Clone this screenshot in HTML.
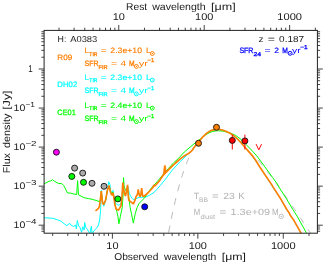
<!DOCTYPE html>
<html><head><meta charset="utf-8"><title>SED</title>
<style>html,body{margin:0;padding:0;background:#fff;}svg{display:block;will-change:transform;filter:grayscale(0)}text{font-family:"Liberation Sans",sans-serif;text-rendering:geometricPrecision;}</style>
</head><body>
<svg width="324" height="263" viewBox="0 0 324 263">
<rect width="324" height="263" fill="#fff"/>
<defs><clipPath id="c"><rect x="44.1" y="30.4" width="273.29999999999995" height="202.85"/></clipPath></defs>
<g clip-path="url(#c)" fill="none" stroke-linejoin="bevel" stroke-linecap="butt">
<path d="M168.30,234.31 L168.71,232.07 L169.12,229.87 L169.54,227.71 L169.95,225.57 L170.36,223.47 L170.77,221.40 L171.18,219.37 L171.59,217.36 L172.00,215.39 L172.42,213.45 L172.83,211.54 L173.24,209.66 L173.65,207.81 L174.06,205.99 L174.48,204.19 L174.89,202.43 L175.30,200.70 L175.71,198.99 L176.12,197.32 L176.53,195.67 L176.95,194.05 L177.36,192.45 L177.77,190.88 L178.18,189.34 L178.59,187.83 L179.00,186.34 L179.41,184.88 L179.83,183.44 L180.24,182.03 L180.65,180.64 L181.06,179.28 L181.47,177.94 L181.89,176.63 L182.30,175.34 L182.71,174.07 L183.12,172.83 L183.53,171.61 L183.94,170.41 L184.36,169.24 L184.77,168.08 L185.18,166.95 L185.59,165.84 L186.00,164.76 L186.41,163.69 L186.82,162.65 L187.24,161.62 L187.65,160.62 L188.06,159.64 L188.47,158.68 L188.88,157.73 L189.30,156.81 L189.71,155.91 L190.12,155.02 L190.53,154.16 L190.94,153.31 L191.35,152.48 L191.76,151.67 L192.18,150.88 L192.59,150.11 L193.00,149.36" stroke="#b4b4b4" stroke-width="1" stroke-dasharray="7,7.15" stroke-dashoffset="-1.7"/>
<path d="M258.20,160.21 L259.16,161.36 L260.13,162.52 L261.09,163.69 L262.05,164.88 L263.02,166.07 L263.98,167.28 L264.94,168.49 L265.91,169.72 L266.87,170.95 L267.83,172.19 L268.80,173.44 L269.76,174.70 L270.72,175.97 L271.69,177.25 L272.65,178.53 L273.61,179.83 L274.58,181.12 L275.54,182.43 L276.50,183.74 L277.47,185.06 L278.43,186.39 L279.39,187.72 L280.36,189.06 L281.32,190.40 L282.28,191.75 L283.25,193.10 L284.21,194.46 L285.17,195.83 L286.14,197.20 L287.10,198.57 L288.06,199.95 L289.03,201.34 L289.99,202.73 L290.95,204.12 L291.92,205.51 L292.88,206.92 L293.84,208.32 L294.81,209.73 L295.77,211.14 L296.73,212.56 L297.70,213.98 L298.66,215.40 L299.62,216.82 L300.59,218.25 L301.55,219.68 L302.51,221.12 L303.48,222.56 L304.44,224.00 L305.40,225.44 L306.37,226.89 L307.33,228.34 L308.29,229.79 L309.26,231.24 L310.22,232.70 L311.18,234.16 L312.15,235.62 L313.11,237.08 L314.07,238.54 L315.04,240.01 L316.00,241.48" stroke="#b4b4b4" stroke-width="1" stroke-dasharray="6.5,7.7"/>
<path d="M43.6,217.7 L52.6,218.3 L57.6,219.8 L61.3,221.4 L64.4,223.9 L66.8,225.5 L68.1,224.8 L69.7,223.2 L70.9,225.1 L73.6,226.4 L75.5,225.1 L76.4,228.8 L77.3,220.6 L78.6,225.8 L80.0,227.6 L81.6,232.3 L82.8,226.8 L83.7,228.7 L84.2,230.0 L84.7,222.5 L85.8,227.5 L87.4,229.3 L88.7,231.8 L89.9,233.6 L91.4,226.2 L92.1,233.6 L94.2,230.5 L96.7,228.1 L98.5,225.0 L99.8,218.8 L100.6,210.2 L101.3,190.5 L102.3,200.0 L103.7,206.2 L105.6,201.0 L107.4,190.0 L108.7,181.7 L109.9,184.2 L111.2,194.0 L111.8,195.0 L113.0,190.3 L114.2,198.0 L115.5,203.0 L117.3,204.8 L119.0,205.2 L121.0,203.6 L122.0,197.0 L123.0,184.0 L124.3,193.0 L125.3,195.0 L127.8,186.5 L129.3,193.4 L130.6,196.2 L132.3,198.6 L134.0,199.6 L136.0,198.8 L139.0,197.3 L142.0,197.3 L145.9,197.0 L149.6,195.2 L154.0,192.4 L157.0,189.2 L160.0,185.8 L164.7,180.2 L172.1,170.3 L180.0,161.7 L188.0,154.1 L190.5,152.0 L194.2,147.3 L198.5,143.0 L202.9,136.8 L209.0,131.9 L212.3,130.1 L218.5,129.5 L224.7,130.7 L230.9,133.8 L237.0,138.4 L244.3,146.5 L250.5,153.3 L260.3,167.7 L266.5,177.0 L273.3,188.0 L280.3,198.2 L286.5,209.3 L293.3,219.4 L301.3,233.6" stroke="#00ffff" stroke-width="1.0"/>
<path d="M43.6,184.2 L48.9,181.3 L50.8,180.9 L52.6,179.7 L54.5,181.3 L58.2,183.4 L61.9,183.7 L63.8,185.6 L67.5,193.0 L70.5,193.0 L73.0,193.9 L76.7,194.5 L77.6,180.6 L78.5,194.8 L84.0,197.7 L88.4,198.6 L92.0,199.2 L99.4,201.5 L100.3,200.0 L101.3,191.5 L102.5,202.7 L103.7,204.5 L105.6,200.2 L107.4,190.3 L109.0,186.0 L110.6,191.6 L112.0,192.6 L113.2,192.4 L114.2,199.0 L115.0,204.0 L116.0,208.5 L116.8,211.6 L117.9,216.3 L118.9,223.8 L120.4,216.3 L122.2,207.7 L123.0,196.0 L123.5,177.6 L124.2,187.0 L125.6,190.3 L127.6,189.5 L129.0,199.0 L130.2,207.7 L131.5,213.9 L133.3,223.1 L135.2,213.9 L137.0,207.7 L139.1,203.3 L144.7,197.8 L146.5,194.7 L150.9,188.6 L157.3,181.5 L162.2,175.6 L168.4,168.5 L173.9,162.5 L178.3,158.6 L184.3,152.0 L190.5,146.8 L196.7,141.7 L203.0,136.8 L206.0,134.6 L209.0,132.9 L212.3,131.5 L216.0,130.9 L218.5,130.8 L222.0,131.0 L224.7,131.5 L228.0,132.3 L230.9,133.3 L235.7,135.4 L240.0,138.6 L244.3,142.8 L250.5,149.0 L256.8,155.9 L259.8,160.0 L262.8,164.0 L272.7,177.6 L277.3,184.0 L279.5,188.0 L286.5,198.8 L292.7,209.3 L297.0,216.0 L306.8,233.6" stroke="#00ff00" stroke-width="1.0"/>
<path d="M95.5,210.8 L98.5,208.3 L99.4,206.4 L100.3,200.0 L101.3,191.0 L102.5,202.7 L103.7,204.5 L105.6,200.2 L107.4,190.3 L109.0,185.4 L110.5,192.2 L111.8,195.3 L113.0,192.8 L114.2,199.0 L114.8,204.5 L116.1,208.9 L118.5,210.2 L121.0,205.8 L122.0,196.5 L122.8,182.6 L124.3,193.4 L125.5,196.0 L127.6,184.8 L128.3,196.5 L128.9,200.4 L131.2,202.2 L133.4,203.9 L134.7,200.9 L136.1,196.5 L137.0,195.3 L137.6,193.5 L138.2,189.4 L138.9,193.6 L139.5,195.6 L140.1,196.6 L140.8,195.0 L141.7,188.0 L142.4,194.6 L142.8,196.0 L143.6,196.6 L147.9,193.0 L150.9,189.8 L153.0,187.4 L153.8,185.0 L154.6,186.2 L156.0,184.7 L160.0,180.2 L162.2,176.5 L163.8,174.6" stroke="#ff7f00" stroke-width="1.65"/>
<path d="M163.2,175.2 L164.4,165.6 L165.3,165.6 L166.4,172.4 Z" fill="#ff7f00" stroke="#ff7f00" stroke-width="0.8"/>
<path d="M163.8,174.6 L166.5,171.8 L170.9,167.3 L175.5,163.0 L180.0,159.2 L184.3,155.9 L188.0,153.8 L190.5,152.0 L192.4,150.0 L194.2,147.3 L196.2,144.8 L198.5,143.0 L200.5,139.8 L202.9,136.8 L206.2,133.6 L209.0,131.6 L212.3,130.1 L215.5,129.5 L218.5,129.4 L221.5,129.8 L224.7,130.7 L228.0,132.2 L230.9,133.8 L234.0,136.0 L238.2,139.7 L241.0,142.6 L244.3,146.5 L250.5,153.6 L252.9,156.4 L255.5,160.0 L260.3,167.7 L266.5,177.0 L271.5,184.4 L273.3,187.4 L280.3,198.2 L286.5,209.0 L288.9,212.4 L290.4,215.6 L293.3,219.4 L301.3,233.6" stroke="#ff7f00" stroke-width="1.65"/>
</g>
<rect x="44.1" y="30.4" width="273.3" height="202.8" fill="none" stroke="#222" stroke-width="1"/>
<path d="M52.68,233.25v2.7M67.73,233.25v2.7M78.40,233.25v2.7M86.68,233.25v2.7M93.45,233.25v2.7M99.17,233.25v2.7M104.12,233.25v2.7M108.49,233.25v2.7M112.40,233.25v5.4M138.12,233.25v2.7M153.17,233.25v2.7M163.84,233.25v2.7M172.12,233.25v2.7M178.89,233.25v2.7M184.61,233.25v2.7M189.56,233.25v2.7M193.93,233.25v2.7M197.84,233.25v5.4M223.56,233.25v2.7M238.61,233.25v2.7M249.28,233.25v2.7M257.56,233.25v2.7M264.33,233.25v2.7M270.05,233.25v2.7M275.00,233.25v2.7M279.37,233.25v2.7M283.28,233.25v5.4M309.00,233.25v2.7M59.04,30.4v-2.7M74.09,30.4v-2.7M84.76,30.4v-2.7M93.04,30.4v-2.7M99.81,30.4v-2.7M105.53,30.4v-2.7M110.48,30.4v-2.7M114.85,30.4v-2.7M118.76,30.4v-5.4M144.48,30.4v-2.7M159.53,30.4v-2.7M170.20,30.4v-2.7M178.48,30.4v-2.7M185.25,30.4v-2.7M190.97,30.4v-2.7M195.92,30.4v-2.7M200.29,30.4v-2.7M204.20,30.4v-5.4M229.92,30.4v-2.7M244.97,30.4v-2.7M255.64,30.4v-2.7M263.92,30.4v-2.7M270.69,30.4v-2.7M276.41,30.4v-2.7M281.36,30.4v-2.7M285.73,30.4v-2.7M289.64,30.4v-5.4M315.36,30.4v-2.7M44.1,231.25h-2.7M317.4,231.25h2.7M44.1,228.98h-2.7M317.4,228.98h2.7M44.1,226.99h-2.7M317.4,226.99h2.7M44.1,225.20h-5.4M317.4,225.20h5.4M44.1,213.44h-2.7M317.4,213.44h2.7M44.1,206.57h-2.7M317.4,206.57h2.7M44.1,201.69h-2.7M317.4,201.69h2.7M44.1,197.91h-2.7M317.4,197.91h2.7M44.1,194.81h-2.7M317.4,194.81h2.7M44.1,192.20h-2.7M317.4,192.20h2.7M44.1,189.93h-2.7M317.4,189.93h2.7M44.1,187.94h-2.7M317.4,187.94h2.7M44.1,186.15h-5.4M317.4,186.15h5.4M44.1,174.39h-2.7M317.4,174.39h2.7M44.1,167.52h-2.7M317.4,167.52h2.7M44.1,162.64h-2.7M317.4,162.64h2.7M44.1,158.86h-2.7M317.4,158.86h2.7M44.1,155.76h-2.7M317.4,155.76h2.7M44.1,153.15h-2.7M317.4,153.15h2.7M44.1,150.88h-2.7M317.4,150.88h2.7M44.1,148.89h-2.7M317.4,148.89h2.7M44.1,147.10h-5.4M317.4,147.10h5.4M44.1,135.34h-2.7M317.4,135.34h2.7M44.1,128.47h-2.7M317.4,128.47h2.7M44.1,123.59h-2.7M317.4,123.59h2.7M44.1,119.81h-2.7M317.4,119.81h2.7M44.1,116.71h-2.7M317.4,116.71h2.7M44.1,114.10h-2.7M317.4,114.10h2.7M44.1,111.83h-2.7M317.4,111.83h2.7M44.1,109.84h-2.7M317.4,109.84h2.7M44.1,108.05h-5.4M317.4,108.05h5.4M44.1,96.29h-2.7M317.4,96.29h2.7M44.1,89.42h-2.7M317.4,89.42h2.7M44.1,84.54h-2.7M317.4,84.54h2.7M44.1,80.76h-2.7M317.4,80.76h2.7M44.1,77.66h-2.7M317.4,77.66h2.7M44.1,75.05h-2.7M317.4,75.05h2.7M44.1,72.78h-2.7M317.4,72.78h2.7M44.1,70.79h-2.7M317.4,70.79h2.7M44.1,69.00h-5.4M317.4,69.00h5.4M44.1,57.24h-2.7M317.4,57.24h2.7M44.1,50.37h-2.7M317.4,50.37h2.7M44.1,45.49h-2.7M317.4,45.49h2.7M44.1,41.71h-2.7M317.4,41.71h2.7M44.1,38.61h-2.7M317.4,38.61h2.7M44.1,36.00h-2.7M317.4,36.00h2.7M44.1,33.73h-2.7M317.4,33.73h2.7M44.1,31.74h-2.7M317.4,31.74h2.7" stroke="#222" stroke-width="0.85" fill="none"/>
<text x="106.31" y="248.6" font-size="9.8" fill="#1a1a1a" textLength="12.17" lengthAdjust="spacingAndGlyphs">10</text>
<text x="112.68" y="20.4" font-size="9.8" fill="#1a1a1a" textLength="12.17" lengthAdjust="spacingAndGlyphs">10</text>
<text x="188.70" y="248.6" font-size="9.8" fill="#1a1a1a" textLength="18.27" lengthAdjust="spacingAndGlyphs">100</text>
<text x="195.07" y="20.4" font-size="9.8" fill="#1a1a1a" textLength="18.27" lengthAdjust="spacingAndGlyphs">100</text>
<text x="270.94" y="248.6" font-size="9.8" fill="#1a1a1a" textLength="24.67" lengthAdjust="spacingAndGlyphs">1000</text>
<text x="277.31" y="20.4" font-size="9.8" fill="#1a1a1a" textLength="24.67" lengthAdjust="spacingAndGlyphs">1000</text>
<text x="28.31" y="71.75" font-size="9.8" fill="#1a1a1a" textLength="4.47" lengthAdjust="spacingAndGlyphs">1</text>
<text x="13.53" y="110.8" font-size="9.6" fill="#1a1a1a" textLength="11.74" lengthAdjust="spacingAndGlyphs">10</text>
<text x="25.40" y="106.8" font-size="7.2" fill="#1a1a1a" textLength="9.61" lengthAdjust="spacingAndGlyphs">−1</text>
<text x="13.53" y="149.9" font-size="9.6" fill="#1a1a1a" textLength="11.74" lengthAdjust="spacingAndGlyphs">10</text>
<text x="25.40" y="145.9" font-size="7.2" fill="#1a1a1a" textLength="11.21" lengthAdjust="spacingAndGlyphs">−2</text>
<text x="13.53" y="188.9" font-size="9.6" fill="#1a1a1a" textLength="11.74" lengthAdjust="spacingAndGlyphs">10</text>
<text x="25.40" y="184.9" font-size="7.2" fill="#1a1a1a" textLength="11.21" lengthAdjust="spacingAndGlyphs">−3</text>
<text x="13.53" y="228.0" font-size="9.6" fill="#1a1a1a" textLength="11.74" lengthAdjust="spacingAndGlyphs">10</text>
<text x="25.40" y="224.0" font-size="7.2" fill="#1a1a1a" textLength="11.21" lengthAdjust="spacingAndGlyphs">−4</text>
<text x="114.20" y="259.9" font-size="10" fill="#1a1a1a" textLength="44.30" lengthAdjust="spacingAndGlyphs">Observed</text>
<text x="164.00" y="259.9" font-size="10" fill="#1a1a1a" textLength="52.30" lengthAdjust="spacingAndGlyphs">wavelength</text>
<text x="221.80" y="259.9" font-size="10" fill="#1a1a1a" textLength="24.20" lengthAdjust="spacingAndGlyphs">[μm]</text>
<text x="126.10" y="9.9" font-size="10" fill="#1a1a1a" textLength="21.10" lengthAdjust="spacingAndGlyphs">Rest</text>
<text x="152.20" y="9.9" font-size="10" fill="#1a1a1a" textLength="53.40" lengthAdjust="spacingAndGlyphs">wavelength</text>
<text x="211.10" y="9.9" font-size="10" fill="#1a1a1a" textLength="24.70" lengthAdjust="spacingAndGlyphs">[μm]</text>
<g transform="translate(10.1,0) rotate(-90)">
<text x="-173.20" y="0" font-size="10" fill="#1a1a1a" textLength="20.10" lengthAdjust="spacingAndGlyphs">Flux</text>
<text x="-147.90" y="0" font-size="10" fill="#1a1a1a" textLength="34.20" lengthAdjust="spacingAndGlyphs">density</text>
<text x="-109.70" y="0" font-size="10" fill="#1a1a1a" textLength="19.20" lengthAdjust="spacingAndGlyphs">[Jy]</text>
</g>
<path d="M232.3,134.7V149.5" stroke="#ff0000" stroke-width="1"/>
<path d="M244.9,134.7V149.5" stroke="#ff0000" stroke-width="1"/>
<circle cx="56.4" cy="152.2" r="3.0" fill="#ff00ff" stroke="#111" stroke-width="0.9"/>
<circle cx="74.6" cy="168.1" r="3.0" fill="#aaaaaa" stroke="#111" stroke-width="0.9"/>
<circle cx="82.7" cy="173.1" r="3.0" fill="#aaaaaa" stroke="#111" stroke-width="0.9"/>
<circle cx="92.0" cy="183.3" r="3.0" fill="#aaaaaa" stroke="#111" stroke-width="0.9"/>
<circle cx="104.0" cy="186.3" r="3.0" fill="#aaaaaa" stroke="#111" stroke-width="0.9"/>
<circle cx="71.8" cy="176.4" r="3.0" fill="#00ff00" stroke="#111" stroke-width="0.9"/>
<circle cx="83.5" cy="182.3" r="3.0" fill="#00ff00" stroke="#111" stroke-width="0.9"/>
<circle cx="117.8" cy="198.9" r="3.0" fill="#00ff00" stroke="#111" stroke-width="0.9"/>
<circle cx="144.7" cy="206.8" r="3.0" fill="#0000ff" stroke="#111" stroke-width="0.9"/>
<circle cx="198.5" cy="143.3" r="3.0" fill="#ff7f00" stroke="#111" stroke-width="0.9"/>
<circle cx="216.5" cy="127.3" r="3.0" fill="#ff7f00" stroke="#111" stroke-width="0.9"/>
<circle cx="232.3" cy="140.4" r="3.0" fill="#ff0000" stroke="#111" stroke-width="0.9"/>
<circle cx="244.9" cy="140.9" r="3.0" fill="#ff0000" stroke="#111" stroke-width="0.9"/>
<path d="M256.1,144.1 L258.8,149.9 L261.5,144.1" fill="none" stroke="#ff0000" stroke-width="0.95" stroke-linejoin="miter"/>
<text x="57.60" y="42.0" font-size="8.6" fill="#1a1a1a" textLength="8.80" lengthAdjust="spacingAndGlyphs">H:</text>
<text x="70.20" y="42.0" font-size="8.6" fill="#1a1a1a" textLength="27.10" lengthAdjust="spacingAndGlyphs">A0383</text>
<text x="258.50" y="41.9" font-size="8.6" fill="#1a1a1a" textLength="5.00" lengthAdjust="spacingAndGlyphs">z</text>
<text x="267.70" y="41.9" font-size="8.6" fill="#1a1a1a" textLength="7.20" lengthAdjust="spacingAndGlyphs">=</text>
<text x="279.10" y="41.9" font-size="8.6" fill="#1a1a1a" textLength="25.00" lengthAdjust="spacingAndGlyphs">0.187</text>
<text x="57.35" y="60.4" font-size="7.8" fill="#ff7f00" stroke="#ff7f00" stroke-width="0.19" textLength="14.89" lengthAdjust="spacingAndGlyphs">R09</text>
<text x="84.55" y="52.9" font-size="7.8" fill="#ff7f00" stroke="#ff7f00" stroke-width="0.21" textLength="4.39" lengthAdjust="spacingAndGlyphs">L</text>
<text x="89.31" y="55.6" font-size="5.6" fill="#ff7f00" stroke="#ff7f00" stroke-width="0.30" textLength="8.18" lengthAdjust="spacingAndGlyphs">TIR</text>
<text x="100.75" y="52.9" font-size="7.8" fill="#ff7f00" stroke="#ff7f00" stroke-width="0.03" textLength="5.79" lengthAdjust="spacingAndGlyphs">=</text>
<text x="110.35" y="52.9" font-size="7.8" fill="#ff7f00" stroke="#ff7f00" stroke-width="0.14" textLength="31.69" lengthAdjust="spacingAndGlyphs">2.3e+10</text>
<text x="145.95" y="52.9" font-size="7.8" fill="#ff7f00" stroke="#ff7f00" stroke-width="0.13" textLength="4.89" lengthAdjust="spacingAndGlyphs">L</text>
<circle cx="152.3" cy="53.5" r="1.95" fill="none" stroke="#ff7f00" stroke-width="1.0"/><circle cx="152.3" cy="53.5" r="0.65" fill="#ff7f00"/>
<text x="84.55" y="65.8" font-size="7.8" fill="#ff7f00" stroke="#ff7f00" stroke-width="0.29" textLength="13.99" lengthAdjust="spacingAndGlyphs">SFR</text>
<text x="98.61" y="68.5" font-size="5.6" fill="#ff7f00" stroke="#ff7f00" stroke-width="0.30" textLength="9.08" lengthAdjust="spacingAndGlyphs">FIR</text>
<text x="110.95" y="65.8" font-size="7.8" fill="#ff7f00" textLength="6.09" lengthAdjust="spacingAndGlyphs">=</text>
<text x="120.55" y="65.8" font-size="7.8" fill="#ff7f00" textLength="5.59" lengthAdjust="spacingAndGlyphs">4</text>
<text x="128.95" y="65.8" font-size="7.8" fill="#ff7f00" stroke="#ff7f00" stroke-width="0.30" textLength="5.59" lengthAdjust="spacingAndGlyphs">M</text>
<circle cx="136.4" cy="66.39999999999999" r="1.95" fill="none" stroke="#ff7f00" stroke-width="1.0"/><circle cx="136.4" cy="66.39999999999999" r="0.65" fill="#ff7f00"/>
<text x="138.75" y="65.8" font-size="7.8" fill="#ff7f00" textLength="9.29" lengthAdjust="spacingAndGlyphs">yr</text>
<text x="147.61" y="62.3" font-size="5.6" fill="#ff7f00" stroke="#ff7f00" stroke-width="0.30" textLength="6.68" lengthAdjust="spacingAndGlyphs">−1</text>
<text x="57.35" y="86.8" font-size="7.8" fill="#00ffff" stroke="#00ffff" stroke-width="0.22" textLength="19.89" lengthAdjust="spacingAndGlyphs">DH02</text>
<text x="84.55" y="79.5" font-size="7.8" fill="#00ffff" stroke="#00ffff" stroke-width="0.21" textLength="4.39" lengthAdjust="spacingAndGlyphs">L</text>
<text x="89.31" y="82.2" font-size="5.6" fill="#00ffff" stroke="#00ffff" stroke-width="0.30" textLength="8.18" lengthAdjust="spacingAndGlyphs">TIR</text>
<text x="100.75" y="79.5" font-size="7.8" fill="#00ffff" stroke="#00ffff" stroke-width="0.03" textLength="5.79" lengthAdjust="spacingAndGlyphs">=</text>
<text x="110.35" y="79.5" font-size="7.8" fill="#00ffff" stroke="#00ffff" stroke-width="0.14" textLength="31.69" lengthAdjust="spacingAndGlyphs">2.3e+10</text>
<text x="145.95" y="79.5" font-size="7.8" fill="#00ffff" stroke="#00ffff" stroke-width="0.13" textLength="4.89" lengthAdjust="spacingAndGlyphs">L</text>
<circle cx="152.3" cy="80.1" r="1.95" fill="none" stroke="#00ffff" stroke-width="1.0"/><circle cx="152.3" cy="80.1" r="0.65" fill="#00ffff"/>
<text x="84.55" y="93.3" font-size="7.8" fill="#00ffff" stroke="#00ffff" stroke-width="0.29" textLength="13.99" lengthAdjust="spacingAndGlyphs">SFR</text>
<text x="98.61" y="96.0" font-size="5.6" fill="#00ffff" stroke="#00ffff" stroke-width="0.30" textLength="9.08" lengthAdjust="spacingAndGlyphs">FIR</text>
<text x="110.95" y="93.3" font-size="7.8" fill="#00ffff" textLength="6.09" lengthAdjust="spacingAndGlyphs">=</text>
<text x="120.55" y="93.3" font-size="7.8" fill="#00ffff" textLength="5.59" lengthAdjust="spacingAndGlyphs">4</text>
<text x="128.95" y="93.3" font-size="7.8" fill="#00ffff" stroke="#00ffff" stroke-width="0.30" textLength="5.59" lengthAdjust="spacingAndGlyphs">M</text>
<circle cx="136.4" cy="93.89999999999999" r="1.95" fill="none" stroke="#00ffff" stroke-width="1.0"/><circle cx="136.4" cy="93.89999999999999" r="0.65" fill="#00ffff"/>
<text x="138.75" y="93.3" font-size="7.8" fill="#00ffff" textLength="9.29" lengthAdjust="spacingAndGlyphs">yr</text>
<text x="147.61" y="89.8" font-size="5.6" fill="#00ffff" stroke="#00ffff" stroke-width="0.30" textLength="6.68" lengthAdjust="spacingAndGlyphs">−1</text>
<text x="57.35" y="114.5" font-size="7.8" fill="#00ff00" stroke="#00ff00" stroke-width="0.25" textLength="18.49" lengthAdjust="spacingAndGlyphs">CE01</text>
<text x="84.55" y="107.6" font-size="7.8" fill="#00ff00" stroke="#00ff00" stroke-width="0.21" textLength="4.39" lengthAdjust="spacingAndGlyphs">L</text>
<text x="89.31" y="110.3" font-size="5.6" fill="#00ff00" stroke="#00ff00" stroke-width="0.30" textLength="8.18" lengthAdjust="spacingAndGlyphs">TIR</text>
<text x="100.75" y="107.6" font-size="7.8" fill="#00ff00" stroke="#00ff00" stroke-width="0.03" textLength="5.79" lengthAdjust="spacingAndGlyphs">=</text>
<text x="110.35" y="107.6" font-size="7.8" fill="#00ff00" stroke="#00ff00" stroke-width="0.14" textLength="31.69" lengthAdjust="spacingAndGlyphs">2.4e+10</text>
<text x="145.95" y="107.6" font-size="7.8" fill="#00ff00" stroke="#00ff00" stroke-width="0.13" textLength="4.89" lengthAdjust="spacingAndGlyphs">L</text>
<circle cx="152.3" cy="108.19999999999999" r="1.95" fill="none" stroke="#00ff00" stroke-width="1.0"/><circle cx="152.3" cy="108.19999999999999" r="0.65" fill="#00ff00"/>
<text x="84.55" y="121.0" font-size="7.8" fill="#00ff00" stroke="#00ff00" stroke-width="0.29" textLength="13.99" lengthAdjust="spacingAndGlyphs">SFR</text>
<text x="98.61" y="123.7" font-size="5.6" fill="#00ff00" stroke="#00ff00" stroke-width="0.30" textLength="9.08" lengthAdjust="spacingAndGlyphs">FIR</text>
<text x="110.95" y="121.0" font-size="7.8" fill="#00ff00" textLength="6.09" lengthAdjust="spacingAndGlyphs">=</text>
<text x="120.55" y="121.0" font-size="7.8" fill="#00ff00" textLength="5.59" lengthAdjust="spacingAndGlyphs">4</text>
<text x="128.95" y="121.0" font-size="7.8" fill="#00ff00" stroke="#00ff00" stroke-width="0.30" textLength="5.59" lengthAdjust="spacingAndGlyphs">M</text>
<circle cx="136.4" cy="121.6" r="1.95" fill="none" stroke="#00ff00" stroke-width="1.0"/><circle cx="136.4" cy="121.6" r="0.65" fill="#00ff00"/>
<text x="138.75" y="121.0" font-size="7.8" fill="#00ff00" textLength="9.29" lengthAdjust="spacingAndGlyphs">yr</text>
<text x="147.61" y="117.5" font-size="5.6" fill="#00ff00" stroke="#00ff00" stroke-width="0.30" textLength="6.68" lengthAdjust="spacingAndGlyphs">−1</text>
<text x="239.45" y="52.7" font-size="7.8" fill="#0000ff" stroke="#0000ff" stroke-width="0.29" textLength="13.99" lengthAdjust="spacingAndGlyphs">SFR</text>
<text x="253.51" y="55.5" font-size="5.6" fill="#0000ff" stroke="#0000ff" stroke-width="0.30" textLength="7.58" lengthAdjust="spacingAndGlyphs">24</text>
<text x="264.45" y="52.7" font-size="7.8" fill="#0000ff" textLength="6.09" lengthAdjust="spacingAndGlyphs">=</text>
<text x="274.15" y="52.7" font-size="7.8" fill="#0000ff" stroke="#0000ff" stroke-width="0.16" textLength="4.69" lengthAdjust="spacingAndGlyphs">2</text>
<text x="282.35" y="52.7" font-size="7.8" fill="#0000ff" stroke="#0000ff" stroke-width="0.30" textLength="5.59" lengthAdjust="spacingAndGlyphs">M</text>
<circle cx="290.1" cy="53.3" r="1.95" fill="none" stroke="#0000ff" stroke-width="1.0"/><circle cx="290.1" cy="53.3" r="0.65" fill="#0000ff"/>
<text x="292.05" y="52.7" font-size="7.8" fill="#0000ff" textLength="8.59" lengthAdjust="spacingAndGlyphs">yr</text>
<text x="300.21" y="49.3" font-size="5.6" fill="#0000ff" stroke="#0000ff" stroke-width="0.30" textLength="7.38" lengthAdjust="spacingAndGlyphs">−1</text>
<text x="193.77" y="199.0" font-size="9.0" fill="#b2b2b2" textLength="5.46" lengthAdjust="spacingAndGlyphs">T</text>
<text x="198.94" y="202.0" font-size="6.6" fill="#b2b2b2" textLength="9.02" lengthAdjust="spacingAndGlyphs">BB</text>
<text x="212.07" y="199.0" font-size="9.0" fill="#b2b2b2" textLength="6.66" lengthAdjust="spacingAndGlyphs">=</text>
<text x="223.17" y="199.0" font-size="9.0" fill="#b2b2b2" textLength="11.66" lengthAdjust="spacingAndGlyphs">23</text>
<text x="238.17" y="199.0" font-size="9.0" fill="#b2b2b2" textLength="6.46" lengthAdjust="spacingAndGlyphs">K</text>
<text x="193.77" y="215.4" font-size="9.0" fill="#b2b2b2" textLength="6.46" lengthAdjust="spacingAndGlyphs">M</text>
<text x="200.64" y="218.6" font-size="6.6" fill="#b2b2b2" textLength="14.52" lengthAdjust="spacingAndGlyphs">dust</text>
<text x="219.47" y="215.4" font-size="9.0" fill="#b2b2b2" textLength="6.76" lengthAdjust="spacingAndGlyphs">=</text>
<text x="230.57" y="215.4" font-size="9.0" fill="#b2b2b2" textLength="39.56" lengthAdjust="spacingAndGlyphs">1.3e+09</text>
<text x="272.07" y="215.4" font-size="9.0" fill="#b2b2b2" textLength="6.66" lengthAdjust="spacingAndGlyphs">M</text>
<circle cx="281.2" cy="216.4" r="2.2" fill="none" stroke="#b2b2b2" stroke-width="0.8"/><circle cx="281.2" cy="216.4" r="0.65" fill="#b2b2b2"/>
</svg></body></html>
